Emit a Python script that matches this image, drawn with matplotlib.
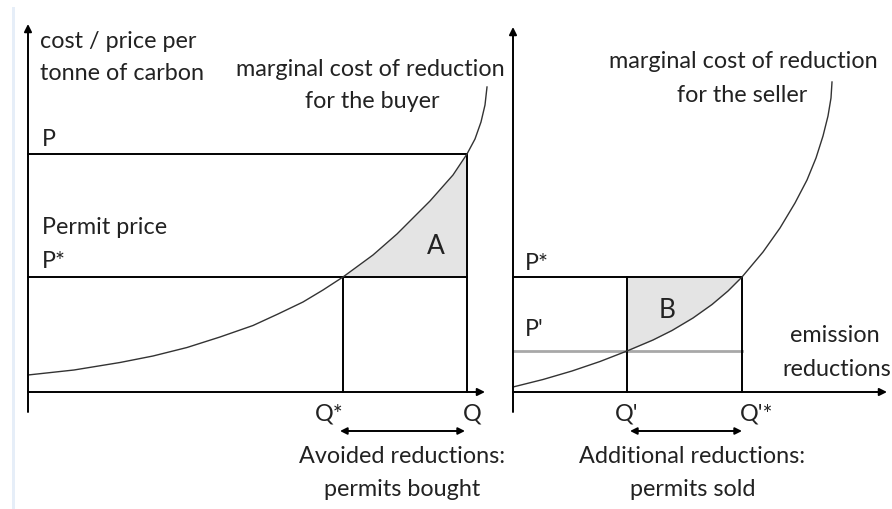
import numpy as np
import matplotlib
matplotlib.use("Agg")
import matplotlib.pyplot as plt
from matplotlib.patches import Rectangle

plt.rcParams['font.family'] = ['Lato', 'DejaVu Sans']

# buyer (left panel), units measured from the axis origin
buyer_P = 238
buyer_P_star = 115
buyer_Q = 439
buyer_Q_star = 315
buyer_q = [0, 46, 92, 125, 159, 192, 225, 250, 275, 295, 315, 345, 369, 402, 425, 439, 447, 453, 457, 459]
buyer_cost = [17, 22, 29.5, 36, 44.5, 55, 66.5, 78, 90, 102, 115, 137, 158, 191, 217, 238, 253, 270, 287, 305]

# seller (right panel)
seller_P_star = 115
seller_P1 = 41
seller_Q1 = 114
seller_Q1_star = 229
seller_q = [0, 30, 59, 87, 114, 140, 159, 180, 199, 215, 229, 250, 267, 282, 294, 303, 310, 315, 318, 319]
seller_cost = [5, 12.5, 21, 30.5, 41, 52, 61.5, 74, 87.5, 101, 115, 140, 164, 189, 212, 234, 256, 276, 294, 310]

FS = 16.8
TXT = '#222222'
LW = 1.4

fig = plt.figure(figsize=(8.92, 5.10), dpi=100)
fig.patches.append(Rectangle((12 / 892, 0), 3 / 892, 1 - 8 / 510, transform=fig.transFigure,
                             facecolor='#e6eef8', edgecolor='none'))

axL = fig.add_axes([0, 0, 500 / 892, 1])
axR = fig.add_axes([500 / 892, 0, 392 / 892, 1])
axL.set_xlim(-28, 472)
axR.set_xlim(-13, 379)
for ax in (axL, axR):
    ax.set_ylim(-117, 393)
    ax.axis('off')


def axes_arrows(ax, x_end, y_end):
    ax.annotate('', xy=(0, y_end), xytext=(0, -20),
                arrowprops=dict(arrowstyle='-|>', color='k', lw=LW, mutation_scale=11, shrinkA=0, shrinkB=0))
    ax.annotate('', xy=(x_end, 0), xytext=(0, 0),
                arrowprops=dict(arrowstyle='-|>', color='k', lw=LW, mutation_scale=11, shrinkA=0, shrinkB=0))


def double_arrow(ax, x0, x1, y):
    ax.annotate('', xy=(x1, y), xytext=(x0, y),
                arrowprops=dict(arrowstyle='<|-|>', color='k', lw=LW, mutation_scale=10, shrinkA=0, shrinkB=0))


# ---- left panel: buyer
bq = np.array(buyer_q)
bc = np.array(buyer_cost)
m = (bq >= buyer_Q_star) & (bq <= buyer_Q)
axL.fill_between(bq[m], buyer_P_star, bc[m], color='#e4e4e4', lw=0)
axes_arrows(axL, 457, 368)
axL.plot([0, buyer_Q], [buyer_P, buyer_P], color='k', lw=LW)
axL.plot([0, buyer_Q], [buyer_P_star, buyer_P_star], color='k', lw=LW)
axL.plot([buyer_Q, buyer_Q], [0, buyer_P], color='k', lw=LW)
axL.plot([buyer_Q_star, buyer_Q_star], [0, buyer_P_star], color='k', lw=LW)
axL.plot(bq, bc, color='#333333', lw=1.0)
double_arrow(axL, 312, 437, -39)

axL.text(12, 351, 'cost / price per', fontsize=FS, color=TXT, va='center')
axL.text(12, 320, 'tonne of carbon', fontsize=FS, color=TXT, va='center')
axL.text(342, 323, 'marginal cost of reduction', fontsize=FS, color=TXT, va='center', ha='center')
axL.text(344, 292, 'for the buyer', fontsize=FS, color=TXT, va='center', ha='center')
axL.text(14, 253, 'P', fontsize=FS, color=TXT, va='center')
axL.text(14, 165, 'Permit price', fontsize=FS, color=TXT, va='center')
axL.text(14, 131, 'P*', fontsize=FS, color=TXT, va='center')
axL.text(408, 147, 'A', fontsize=19, color=TXT, va='center', ha='center')
axL.text(buyer_Q_star + 1, -21, 'Q*', fontsize=FS, color=TXT, va='center', ha='right')
axL.text(buyer_Q + 5, -21, 'Q', fontsize=FS, color=TXT, va='center', ha='center')
axL.text(374, -64, 'Avoided reductions:', fontsize=FS, color=TXT, va='center', ha='center')
axL.text(374, -97, 'permits bought', fontsize=FS, color=TXT, va='center', ha='center')

# ---- right panel: seller
sq = np.array(seller_q)
sc = np.array(seller_cost)
m = (sq >= seller_Q1) & (sq <= seller_Q1_star)
axR.fill_between(sq[m], sc[m], seller_P_star, color='#e4e4e4', lw=0)
axes_arrows(axR, 374, 365)
axR.plot([0, seller_Q1_star], [seller_P1, seller_P1], color='#a8a8a8', lw=2.0)
axR.plot([0, seller_Q1_star], [seller_P_star, seller_P_star], color='k', lw=LW)
axR.plot([seller_Q1, seller_Q1], [0, seller_P_star], color='k', lw=LW)
axR.plot([seller_Q1_star, seller_Q1_star], [0, seller_P_star], color='k', lw=LW)
axR.plot(sq, sc, color='#333333', lw=1.0)
double_arrow(axR, 117, 229, -39)

axR.text(230, 331, 'marginal cost of reduction', fontsize=FS, color=TXT, va='center', ha='center')
axR.text(229, 298, 'for the seller', fontsize=FS, color=TXT, va='center', ha='center')
axR.text(12, 130, 'P*', fontsize=FS, color=TXT, va='center')
axR.text(12, 63, "P'", fontsize=FS, color=TXT, va='center')
axR.text(154, 83, 'B', fontsize=19, color=TXT, va='center', ha='center')
axR.text(322, 57, 'emission', fontsize=FS, color=TXT, va='center', ha='center')
axR.text(324, 23, 'reductions', fontsize=FS, color=TXT, va='center', ha='center')
axR.text(seller_Q1, -21, "Q'", fontsize=FS, color=TXT, va='center', ha='center')
axR.text(seller_Q1_star - 2, -21, "Q'*", fontsize=FS, color=TXT, va='center', ha='left')
axR.text(179, -64, 'Additional reductions:', fontsize=FS, color=TXT, va='center', ha='center')
axR.text(180, -97, 'permits sold', fontsize=FS, color=TXT, va='center', ha='center')

fig.savefig('out.png', dpi=100)
